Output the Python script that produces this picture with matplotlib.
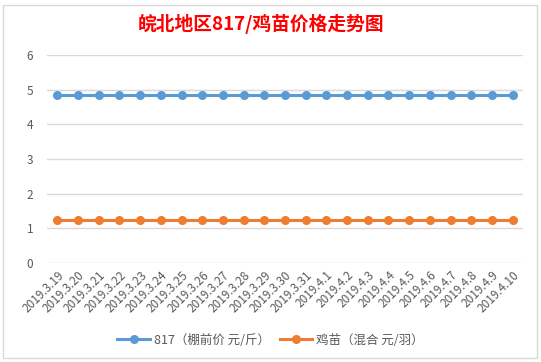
import matplotlib.pyplot as plt
from matplotlib.patches import Rectangle

plt.rcParams['font.family'] = ['Noto Sans CJK SC', 'DejaVu Sans']

dates = ['2019.3.19', '2019.3.20', '2019.3.21', '2019.3.22', '2019.3.23', '2019.3.24',
         '2019.3.25', '2019.3.26', '2019.3.27', '2019.3.28', '2019.3.29', '2019.3.30',
         '2019.3.31', '2019.4.1', '2019.4.2', '2019.4.3', '2019.4.4', '2019.4.5',
         '2019.4.6', '2019.4.7', '2019.4.8', '2019.4.9', '2019.4.10']
price_817 = [4.85] * 23
price_chick = [1.25] * 23
yticks = [0, 1, 2, 3, 4, 5, 6]

fig = plt.figure(figsize=(5.41, 3.62), dpi=100)
fig.patch.set_facecolor('white')
# chart border like the Excel chart area
fig.patches.append(Rectangle((3 / 541, 4 / 362), 534 / 541, 353 / 362, transform=fig.transFigure,
                             fill=False, edgecolor='#d9d9d9', linewidth=1))

ax = fig.add_axes([47 / 541, 1 - 263 / 362, 476 / 541, 208 / 362])
x = list(range(len(dates)))
ax.plot(x, price_817, color='#5b9bd5', linewidth=2.2, marker='o', markersize=5.5,
        label='817（棚前价 元/斤）')
ax.plot(x, price_chick, color='#ed7d31', linewidth=2.2, marker='o', markersize=5.5,
        label='鸡苗（混合 元/羽）')

ax.set_xlim(-0.5, len(dates) - 0.5)
ax.set_ylim(0, 6)
ax.set_yticks(yticks)
ax.set_xticks(x)
ax.set_xticklabels(dates, rotation=45, ha='right', rotation_mode='anchor')
ax.tick_params(axis='both', length=0, labelsize=8.5, labelcolor='#595959')
ax.tick_params(axis='y', pad=10)
ax.tick_params(axis='x', pad=4)
ax.grid(axis='y', color='#d9d9d9', linewidth=1)
ax.set_axisbelow(True)
for s in ax.spines.values():
    s.set_visible(False)

fig.text(0.482, 1 - 24 / 362, '皖北地区817/鸡苗价格走势图', color='#ff0000', fontsize=13.5,
         fontweight='bold', ha='center', va='center')

ax.legend(loc='center', bbox_to_anchor=(0.5, 1 - 340 / 362), bbox_transform=fig.transFigure,
          ncol=2, frameon=False, fontsize=9, labelcolor='#595959', handlelength=2.6,
          columnspacing=0.8, handletextpad=0.3)

fig.savefig('out.png', dpi=100)
